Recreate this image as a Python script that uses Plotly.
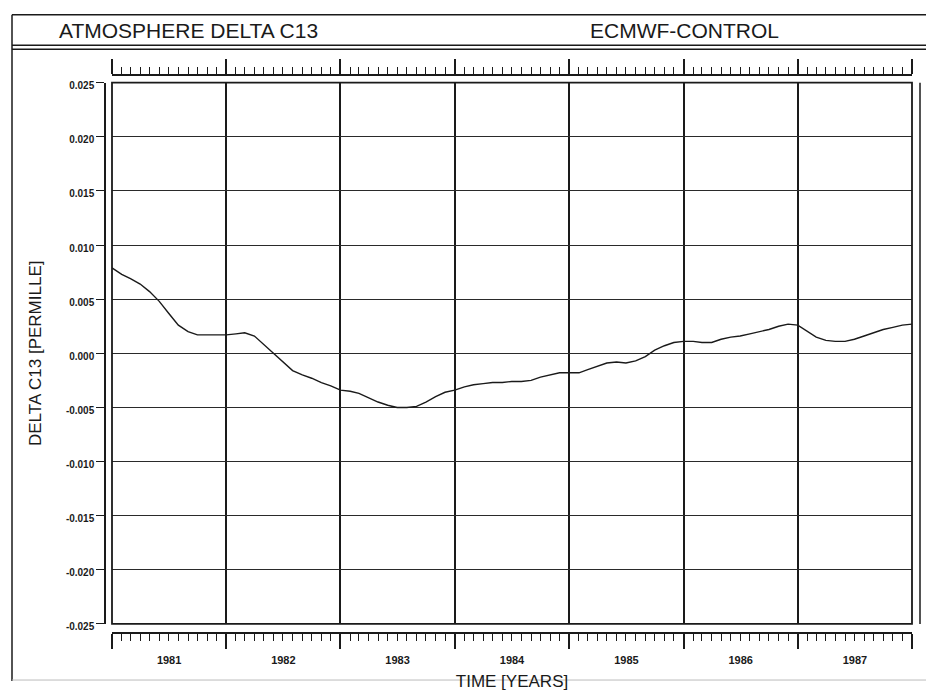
import pandas as pd
import plotly.graph_objects as go

# Monthly atmospheric delta C13 anomaly, Jan 1981 .. Jan 1988 (permille)
months = pd.date_range("1981-01-01", "1988-01-01", freq="MS")
delta_c13 = [
    0.0079, 0.0073, 0.0069, 0.0064, 0.0057, 0.0048, 0.0037, 0.0026, 0.0020, 0.0017, 0.0017, 0.0017,
    0.0017, 0.0018, 0.0019, 0.0016, 0.0008, 0.0000, -0.0008, -0.0016, -0.0020, -0.0023, -0.0027, -0.0030,
    -0.0034, -0.0035, -0.0037, -0.0041, -0.0045, -0.0048, -0.0050, -0.0050, -0.0049, -0.0045, -0.0040, -0.0036,
    -0.0034, -0.0031, -0.0029, -0.0028, -0.0027, -0.0027, -0.0026, -0.0026, -0.0025, -0.0022, -0.0020, -0.0018,
    -0.0018, -0.0018, -0.0015, -0.0012, -0.0009, -0.0008, -0.0009, -0.0007, -0.0003, 0.0003, 0.0007, 0.0010,
    0.0011, 0.0011, 0.0010, 0.0010, 0.0013, 0.0015, 0.0016, 0.0018, 0.0020, 0.0022, 0.0025, 0.0027,
    0.0026, 0.0020, 0.0015, 0.0012, 0.0011, 0.0011, 0.0013, 0.0016, 0.0019, 0.0022, 0.0024, 0.0026,
    0.0027,
]

y_tick_values = [0.025, 0.020, 0.015, 0.010, 0.005, 0.000, -0.005, -0.010, -0.015, -0.020, -0.025]
y_tick_text = ["0.025", "0.020", "0.015", "0.010", "0.005", "0.000",
               "-0.005", "-0.010", "-0.015", "-0.020", "-0.025"]

title_left = "ATMOSPHERE DELTA C13"
title_right = "ECMWF-CONTROL"
y_title = "DELTA C13 [PERMILLE]"
x_title = "TIME [YEARS]"

W, H = 926, 691
INK = "#1a1a1a"
FONT = "Liberation Sans"


def px_x(p):
    return p / W


def px_y(p):
    return 1 - p / H


x_range = ["1981-01-01", "1988-01-01"]
x_dom = [px_x(112), px_x(912)]
y_dom = [px_y(632), px_y(82)]

fig = go.Figure()
fig.add_trace(go.Scatter(
    x=months, y=delta_c13, mode="lines",
    line=dict(color=INK, width=1.4),
    showlegend=False, hoverinfo="skip",
))
# carrier traces so the two ruler axes are laid out
for ax in ("x2", "x3"):
    fig.add_trace(go.Scatter(
        x=months, y=delta_c13, mode="lines", xaxis=ax, yaxis="y",
        line=dict(width=0, color="rgba(0,0,0,0)"),
        showlegend=False, hoverinfo="skip",
    ))

ruler_common = dict(
    overlaying="x", type="date", range=x_range, anchor="free",
    showgrid=False, zeroline=False,
    showline=True, linecolor=INK, linewidth=1.5,
    ticks="outside", tickcolor=INK, tickwidth=1.5,
    tick0="1981-01-01", dtick="M12",
    minor=dict(dtick="M1", tick0="1981-01-01", ticks="outside", ticklen=7,
               tickwidth=1.3, tickcolor=INK, showgrid=False),
)

fig.update_layout(
    width=W, height=H,
    margin=dict(l=0, r=0, t=0, b=0),
    paper_bgcolor="white", plot_bgcolor="white",
    font=dict(family=FONT, color=INK),
    xaxis=dict(
        domain=x_dom, type="date", range=x_range, anchor="y",
        showgrid=True, gridcolor=INK, gridwidth=1.8,
        tick0="1981-01-01", dtick="M12",
        showticklabels=False, ticks="", zeroline=False, showline=False,
    ),
    xaxis2=dict(
        **ruler_common, side="bottom", position=px_y(641),
        ticklen=15, ticklabelmode="period", tickformat="%Y",
        ticklabelstandoff=2,
        tickfont=dict(family=FONT, size=11, color=INK, weight="bold"),
        title=dict(text=x_title, font=dict(family=FONT, size=17, color=INK), standoff=12),
    ),
    xaxis3=dict(
        **ruler_common, side="top", position=px_y(74),
        ticklen=15, showticklabels=False,
    ),
    yaxis=dict(
        domain=y_dom, range=[-0.025, 0.025], anchor="free", position=px_x(105),
        tickvals=y_tick_values, ticktext=y_tick_text,
        showgrid=True, gridcolor="#2a2a2a", gridwidth=1.4,
        zeroline=False, showline=True, linecolor=INK, linewidth=1.5,
        ticks="outside", ticklen=8, tickcolor=INK, tickwidth=1.3,
        ticklabelshift=3,
        tickfont=dict(family=FONT, size=10, color=INK, weight="bold"),
        title=dict(text=y_title, font=dict(family=FONT, size=17, color=INK), standoff=19),
    ),
)

frame = dict(color=INK, width=1.5)
shapes = [
    # plot border
    dict(type="rect", xref="x domain", yref="y domain", x0=0, x1=1, y0=0, y1=1,
         line=dict(color=INK, width=1.8)),
    # neighbouring panel edge
    dict(type="line", xref="paper", yref="paper", x0=px_x(920), x1=px_x(920),
         y0=px_y(82), y1=px_y(632), line=frame),
    # outer frame and title band
    dict(type="line", xref="paper", yref="paper", x0=px_x(12), x1=1,
         y0=px_y(13), y1=px_y(13), line=frame),
    dict(type="line", xref="paper", yref="paper", x0=px_x(12), x1=1,
         y0=px_y(44), y1=px_y(44), line=frame),
    dict(type="line", xref="paper", yref="paper", x0=px_x(12), x1=1,
         y0=px_y(48), y1=px_y(48), line=frame),
    dict(type="line", xref="paper", yref="paper", x0=px_x(12), x1=px_x(12),
         y0=px_y(13), y1=px_y(690), line=frame),
    dict(type="line", xref="paper", yref="paper", x0=px_x(12), x1=1,
         y0=px_y(689), y1=px_y(689), line=dict(color="#bbbbbb", width=1)),
]
fig.update_layout(shapes=shapes)

fig.add_annotation(text=title_left, xref="paper", yref="paper",
                   x=px_x(188), y=px_y(29), xanchor="center", yanchor="middle",
                   showarrow=False, font=dict(family=FONT, size=21, color=INK))
fig.add_annotation(text=title_right, xref="paper", yref="paper",
                   x=px_x(684), y=px_y(29), xanchor="center", yanchor="middle",
                   showarrow=False, font=dict(family=FONT, size=21, color=INK))

fig.write_html("out.html")
